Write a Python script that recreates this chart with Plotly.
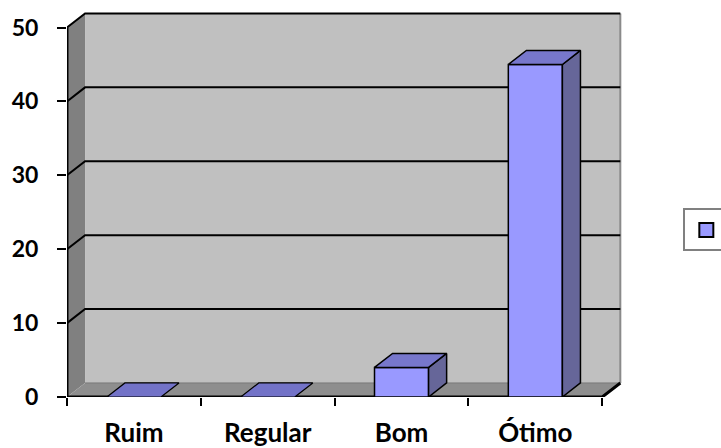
import plotly.graph_objects as go

CATEGORIES = ["Ruim", "Regular", "Bom", "Ótimo"]
VALUES = [0, 0, 4, 45]
Y_TICKS = [0, 10, 20, 30, 40, 50]
Y_MAX = 50

DX = 0.135   # depth offset (category units)
DY = 1.9     # depth offset (value units)
BAR_W = 0.404

FRONT = "#9999FF"
TOP = "#7777CC"
SIDE = "#666699"

n = len(CATEGORIES)
x0, x1 = -0.5, n - 0.5
XR = [x0, x1 + DX + 0.02]
YR = [0, Y_MAX + DY + 0.2]

fig = go.Figure()


def poly(xs, ys, fill, line_color="rgba(0,0,0,0)", lw=0):
    fig.add_trace(go.Scatter(
        x=xs + [xs[0]], y=ys + [ys[0]], mode="lines", fill="toself",
        fillcolor=fill, line=dict(color=line_color, width=lw),
        hoverinfo="skip", showlegend=False))


def line(xs, ys, color, lw):
    fig.add_trace(go.Scatter(
        x=xs, y=ys, mode="lines", line=dict(color=color, width=lw),
        hoverinfo="skip", showlegend=False))


# walls and floor
poly([x0, x0 + DX, x0 + DX, x0], [0, DY, Y_MAX + DY, Y_MAX], "#808080")
poly([x0 + DX, x1 + DX, x1 + DX, x0 + DX], [DY, DY, Y_MAX + DY, Y_MAX + DY], "#C0C0C0")
poly([x0, x1, x1 + DX, x0 + DX], [0, 0, DY, DY], "#8E8E8E")

# back wall right edge and floor back edge
line([x1 + DX, x1 + DX], [DY, Y_MAX + DY], "#8A8A8A", 2)
line([x0 + DX, x1 + DX], [DY, DY], "#7A7A7A", 1)

# gridlines
gx, gy = [], []
for v in Y_TICKS[1:]:
    gx += [x0, x0 + DX, x1 + DX, None]
    gy += [v, v + DY, v + DY, None]
line(gx, gy, "#000000", 2)

# front edges (axes)
line([x0, x0], [0, Y_MAX], "#000000", 3)
line([x0, x1, x1 + DX], [0, 0, DY], "#000000", 3)

# bars
for i, v in enumerate(VALUES):
    l = i - BAR_W / 2
    r = i + BAR_W / 2
    if v > 0:
        poly([l, r, r, l], [0, 0, v, v], FRONT, "#000000", 1.5)
        poly([r, r + DX, r + DX, r], [0, DY, v + DY, v], SIDE, "#000000", 1.5)
        poly([l, r, r + DX, l + DX], [v, v, v + DY, v + DY], TOP, "#000000", 1.5)
    else:
        poly([l, r, r + DX, l + DX], [0, 0, DY, DY], "#7373C8", "#000000", 1.2)

# legend entry
fig.add_trace(go.Scatter(
    x=[None], y=[None], mode="markers", name=" ", xaxis="x2",
    marker=dict(symbol="square", size=14, color=FRONT,
                line=dict(color="#000000", width=2)),
    showlegend=True))

y_font = dict(family="Lato", size=23, color="#000000", weight="bold")
x_font = dict(family="Lato", size=26, color="#000000", weight="bold")

fig.update_layout(
    width=721, height=448,
    margin=dict(l=67, r=98, t=12, b=51, autoexpand=False),
    paper_bgcolor="white", plot_bgcolor="white",
    showlegend=True,
    xaxis=dict(range=XR, tickvals=[x0 + k for k in range(n + 1)],
               ticks="outside", ticklen=8, tickwidth=2, tickcolor="#000000",
               showticklabels=False, showgrid=False, zeroline=False,
               showline=False, fixedrange=True),
    xaxis2=dict(range=XR, overlaying="x", side="bottom", anchor="y",
                tickvals=list(range(n)), ticktext=CATEGORIES, ticks="",
                tickfont=x_font, ticklabelstandoff=18,
                showgrid=False, zeroline=False, showline=False),
    yaxis=dict(range=YR, tickvals=Y_TICKS, ticks="outside", ticklen=9,
               tickwidth=2, tickcolor="#000000", tickfont=y_font,
               ticklabelstandoff=14, showgrid=False, zeroline=False,
               showline=False),
    legend=dict(x=1.1085, xanchor="left", y=0.434, yanchor="middle",
                bordercolor="#808080", borderwidth=2, bgcolor="white",
                itemwidth=32, font=dict(size=20)),
)

fig.write_html("out.html", config={"displayModeBar": False},
               post_script="document.body.style.margin='0';document.body.style.overflow='hidden';")
